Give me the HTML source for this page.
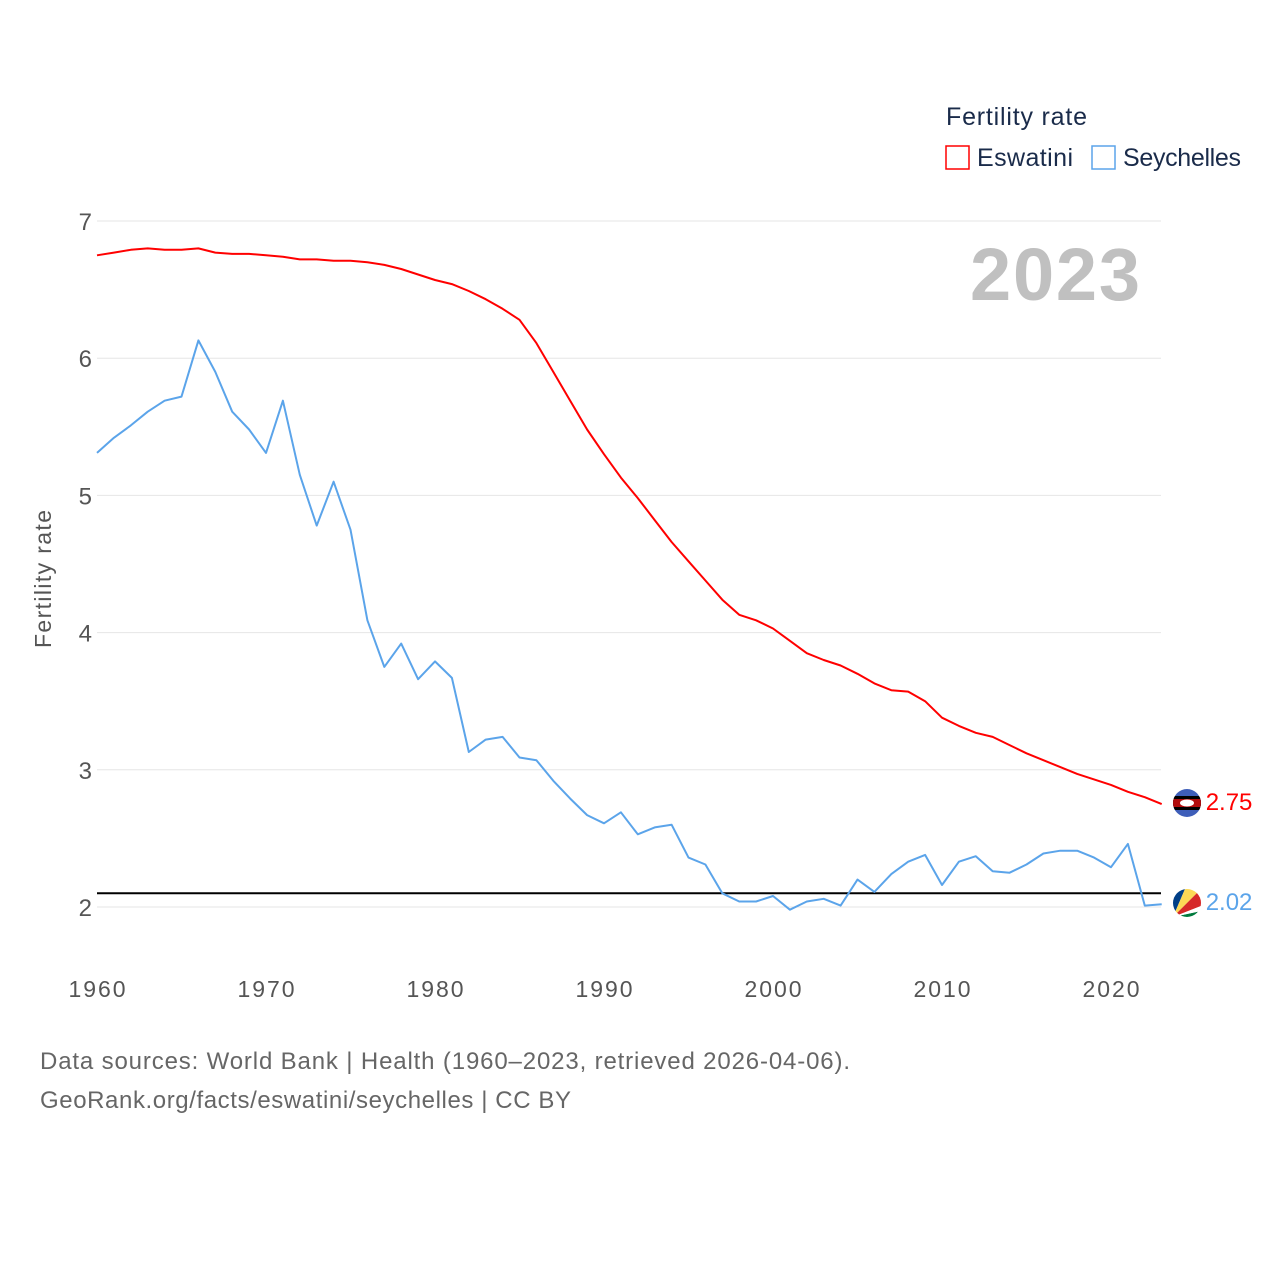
<!DOCTYPE html>
<html><head><meta charset="utf-8">
<style>
html,body{margin:0;padding:0;background:#fff;}
svg{display:block;font-family:"Liberation Sans",sans-serif;}
</style></head>
<body>
<svg id="chart" width="1280" height="1280" viewBox="0 0 1280 1280">
  <defs>
    <clipPath id="c1"><circle cx="1187" cy="803" r="14"/></clipPath>
    <clipPath id="c2"><circle cx="1187" cy="903" r="14"/></clipPath>
  </defs>
  <text x="946" y="125" font-size="25" fill="#1a2b4a" textLength="141">Fertility rate</text>
  <rect x="946" y="146" width="23" height="23" fill="none" stroke="#ff0000" stroke-width="1.5"/>
  <text x="977" y="166" font-size="25" fill="#1a2b4a" textLength="96">Eswatini</text>
  <rect x="1092" y="146" width="23" height="23" fill="none" stroke="#5ba4ea" stroke-width="1.5"/>
  <text x="1123" y="166" font-size="25" fill="#1a2b4a" textLength="118">Seychelles</text>
  <text x="970" y="300" font-size="74" font-weight="bold" fill="#c0c0c0" textLength="170">2023</text>
  <text transform="translate(51,579) rotate(-90)" font-size="23" fill="#555" text-anchor="middle" textLength="138">Fertility rate</text>
  <g id="grid"></g>
  <g id="series"></g>
  <g clip-path="url(#c1)">
    <rect x="1173" y="789" width="28" height="28" fill="#3e5eb9"/>
    <rect x="1173" y="796" width="28" height="14" fill="#000"/>
    <rect x="1173" y="799" width="28" height="8" fill="#b10c0c"/>
    <ellipse cx="1187" cy="803" rx="7" ry="3.5" fill="#fff"/>
  </g>
  <g clip-path="url(#c2)">
    <rect x="1173" y="889" width="28" height="28" fill="#fff"/>
    <polygon points="1173,917 1173,889 1185,889" fill="#003f87"/>
    <polygon points="1173,917 1185,889 1201,889" fill="#fcd856"/>
    <polygon points="1173,917 1201,889 1201,906" fill="#d62828"/>
    <polygon points="1173,917 1201,911 1201,917" fill="#007a3d"/>
    <polygon points="1173,917 1201,906 1201,911" fill="#fff"/>
  </g>
  <text x="40" y="1069" font-size="24" fill="#666" textLength="810">Data sources: World Bank | Health (1960–2023, retrieved 2026-04-06).</text>
  <text x="40" y="1108" font-size="24" fill="#666" textLength="531">GeoRank.org/facts/eswatini/seychelles | CC BY</text>
</svg>
<script>
const years = [];
for (let y = 1960; y <= 2023; y++) years.push(y);
const eswatini = [6.75,6.77,6.79,6.80,6.79,6.79,6.80,6.77,6.76,6.76,6.75,6.74,6.72,6.72,6.71,6.71,6.70,6.68,6.65,6.61,6.57,6.54,6.49,6.43,6.36,6.28,6.11,5.90,5.69,5.48,5.30,5.13,4.98,4.82,4.66,4.52,4.38,4.24,4.13,4.09,4.03,3.94,3.85,3.80,3.76,3.70,3.63,3.58,3.57,3.50,3.38,3.32,3.27,3.24,3.18,3.12,3.07,3.02,2.97,2.93,2.89,2.84,2.80,2.75];
const seychelles = [5.31,5.42,5.51,5.61,5.69,5.72,6.13,5.90,5.61,5.48,5.31,5.69,5.15,4.78,5.10,4.75,4.09,3.75,3.92,3.66,3.79,3.67,3.13,3.22,3.24,3.09,3.07,2.92,2.79,2.67,2.61,2.69,2.53,2.58,2.60,2.36,2.31,2.10,2.04,2.04,2.08,1.98,2.04,2.06,2.01,2.20,2.11,2.24,2.33,2.38,2.16,2.33,2.37,2.26,2.25,2.31,2.39,2.41,2.41,2.36,2.29,2.46,2.01,2.02];
const yTicks = [2,3,4,5,6,7];
const xTicks = [1960,1970,1980,1990,2000,2010,2020];
const replacement = 2.1;

const NS = "http://www.w3.org/2000/svg";
const xs = yr => 97 + (yr - 1960) * 16.9;
const ys = v => 221 + (7 - v) * 137.2;
function mk(tag, attrs, parent, txt) {
  const e = document.createElementNS(NS, tag);
  for (const k in attrs) e.setAttribute(k, attrs[k]);
  if (txt !== undefined) e.textContent = txt;
  parent.appendChild(e); return e;
}
const grid = document.getElementById('grid');
const series = document.getElementById('series');
yTicks.forEach(t => {
  const l = mk('line', {x1:97, x2:1161, y1:ys(t), y2:ys(t), stroke:'#e6e6e6', 'stroke-width':1}, grid);
  
  
  const tx = mk('text', {x:92, y:ys(t)+9, 'font-size':24, fill:'#555', 'text-anchor':'end'}, grid, String(t));
  
  
});
xTicks.forEach(t => {
  const tx = mk('text', {x:xs(t), y:997, 'font-size':23, fill:'#555', 'text-anchor':'middle', textLength:57}, grid, String(t));
  
  
});
const rl = mk('line', {x1:97, x2:1161, y1:ys(replacement), y2:ys(replacement), stroke:'#000', 'stroke-width':2}, series);



function drawSeries(vals, color, name, labelY) {
  const d = vals.map((v,i) => (i?'L':'M') + xs(years[i]).toFixed(1) + ' ' + ys(v).toFixed(1)).join(' ');
  const p = mk('path', {d, fill:'none', stroke:color, 'stroke-width':2, 'stroke-linejoin':'round'}, series);
  
  
  const last = vals[vals.length-1];
  const lx = xs(years[years.length-1]);
  const t = mk('text', {x:lx+44, y:labelY+9, 'font-size':24, fill:color}, series, last.toFixed(2));
  
  
}
drawSeries(eswatini, '#ff0000', 'eswatini', 801);
drawSeries(seychelles, '#5ba4ea', 'seychelles', 901);
</script>
</body></html>
